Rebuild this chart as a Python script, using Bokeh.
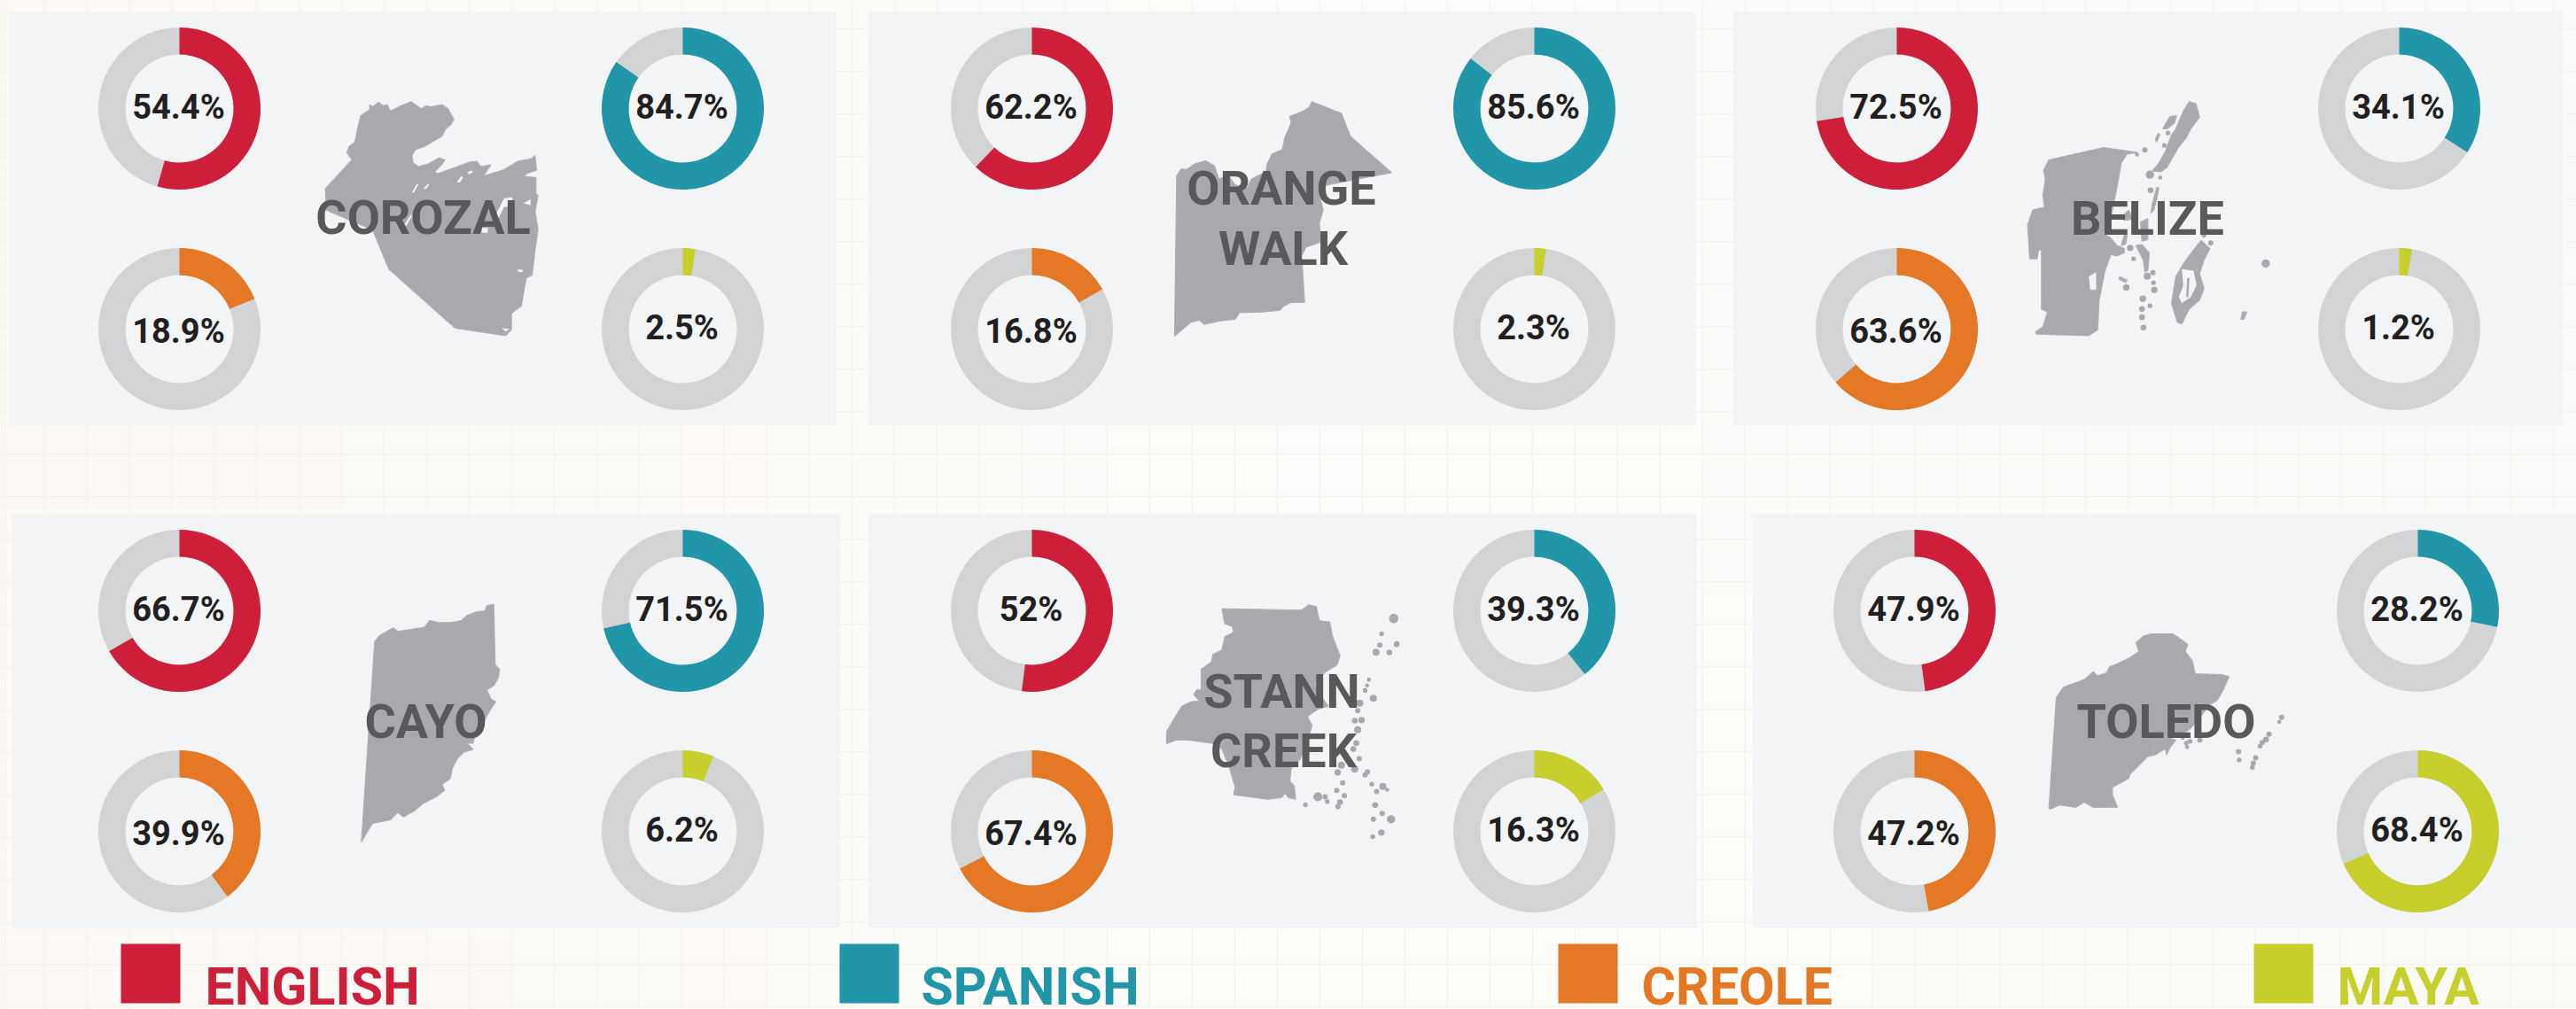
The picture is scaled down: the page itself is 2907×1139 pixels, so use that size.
from math import pi
from bokeh.plotting import figure
from bokeh.models import Range1d
from bokeh.core.properties import value
from bokeh.embed import file_html
from bokeh.resources import INLINE

# ---------- chart values ----------
districts = ["COROZAL", "ORANGE WALK", "BELIZE", "CAYO", "STANN CREEK", "TOLEDO"]
english = [54.4, 62.2, 72.5, 66.7, 52, 47.9]
spanish = [84.7, 85.6, 34.1, 71.5, 39.3, 28.2]
creole = [18.9, 16.8, 63.6, 39.9, 67.4, 47.2]
maya = [2.5, 2.3, 1.2, 6.2, 16.3, 68.4]
# the reference draws Belize's 1.2% Maya arc as wide as about 2.5%
maya_arc = [2.5, 2.3, 2.5, 6.2, 16.3, 68.4]
languages = ["ENGLISH", "SPANISH", "CREOLE", "MAYA"]
lang_colors = ["#ce1f3a", "#2196a8", "#e57825", "#c6cf2b"]

corozal_outline = [(185,38),(195,45),(215,30),(232,42),(245,38),(255,60),(290,42),(325,28),(345,42),(360,52),(375,42),(392,45),(430,38),(450,52),(470,88),(460,105),(442,120),(430,145),(395,165),(370,180),(340,190),(328,210),(332,235),(350,248),(385,238),(420,218),(440,225),(430,240),(405,265),(415,272),(470,252),(525,232),(548,230),(560,248),(595,242),(570,280),(640,258),(690,228),(730,222),(745,210),(750,260),(720,270),(705,280),(748,285),(748,340),(755,345),(745,400),(755,460),(745,530),(735,615),(715,625),(698,720),(665,745),(665,800),(645,820),(475,795),(250,595),(195,462),(38,395),(35,322),(125,225),(108,200),(115,180),(135,165),(145,115),(155,75),(185,55)]
corozal_holes = [[(480,300),(495,280),(502,285),(490,302)],[(515,268),(530,260),(535,268),(522,274)],[(328,335),(345,305),(350,310),(335,335)],[(368,322),(383,305),(386,310),(375,325)],[(300,447),(325,410),(328,415),(310,447)],[(563,455),(585,455),(585,472),(565,472)],[(600,430),(625,385),(640,355),(668,352),(668,382),(640,385),(620,425)],[(705,372),(730,358),(730,378)],[(686,595),(705,598),(700,606),(688,604)],[(632,795),(660,797),(645,806)]]
orange_outline = [(510,28),(610,68),(640,145),(780,268),(560,310),(535,340),(548,395),(535,440),(540,490),(535,505),(490,520),(475,550),(480,620),(485,708),(440,708),(415,720),(400,735),(340,740),(265,742),(250,765),(200,770),(145,782),(130,768),(100,775),(70,800),(45,822),(52,280),(68,255),(85,258),(115,238),(150,228),(180,245),(195,290),(225,275),(250,310),(290,320),(305,290),(355,265),(358,240),(375,205),(410,190),(418,150),(440,100),(435,78),(475,62),(500,48)]
belize_outline = [(80,225),(265,183),(380,200),(345,205),(325,235),(310,320),(290,420),(265,475),(290,490),(310,515),(335,525),(335,540),(310,550),(290,545),(270,600),(250,700),(245,800),(215,820),(38,815),(35,808),(60,790),(75,740),(55,730),(55,530),(45,530),(40,560),(15,560),(8,445),(25,395),(65,385),(60,345),(68,290),(62,260)]
belize_islands = [[(555,28),(578,35),(590,80),(560,120),(545,150),(520,180),(480,250),(460,265),(430,262),(450,240),(475,195),(495,140),(510,120),(535,60)],[(490,78),(512,75),(505,100),(480,120),(465,120)],[(450,135),(455,140),(445,165),(440,155)],[(445,318),(452,320),(445,360),(435,395),(425,405),(430,375),(438,345)],[(350,395),(365,425),(335,430),(330,415)],[(390,435),(415,425),(415,495),(395,500)],[(335,480),(345,480),(340,510),(325,515)],[(375,515),(395,512),(420,540),(415,600),(405,605),(400,565)],[(320,620),(345,632),(340,640),(318,630)],[(595,498),(625,525),(605,565),(590,610),(605,660),(590,700),(555,730),(530,780),(515,775),(495,710),(510,620),(540,570),(570,530)],[(735,740),(750,740),(740,765),(730,765)]]
belize_holes = [[(215,620),(240,605),(240,665),(220,665)],[(530,595),(570,600),(580,650),(560,690),(530,710),(520,690),(535,650)]]
belize_inner = [[(548,625),(556,625),(552,690),(545,690)]]
belize_dots = [(483,134,8),(471,176,8),(405,191,9),(378,207,7),(457,285,7),(367,560,8),(422,719,8),(434,641,8),(814,576,14),(422,275,14),(424,328,10),(355,523,11),(413,619,12),(432,607,9),(437,665,11),(342,657,11),(398,695,11),(395,730,10),(395,758,10),(400,793,10),(605,480,8),(628,506,9)]
cayo_outline = [(635,20),(640,225),(655,240),(650,270),(635,295),(612,310),(625,340),(642,350),(625,375),(610,400),(595,440),(570,470),(565,490),(545,490),(565,512),(535,520),(510,545),(495,575),(488,610),(460,630),(468,650),(440,672),(395,695),(365,720),(330,740),(310,725),(285,750),(225,762),(210,785),(187,825),(232,145),(250,125),(295,100),(310,112),(400,98),(418,75),(450,82),(490,82),(525,75),(545,58),(578,45),(605,42),(612,25)]
stann_outline = [(205,35),(475,40),(500,22),(525,28),(535,75),(570,80),(580,130),(605,195),(595,225),(555,250),(520,285),(540,330),(565,365),(530,375),(495,400),(510,430),(500,470),(470,545),(440,575),(435,620),(450,635),(455,680),(430,675),(420,660),(405,675),(360,680),(245,665),(250,640),(230,570),(205,510),(170,490),(90,480),(50,480),(18,492),(18,450),(45,405),(70,365),(100,350),(130,348),(110,325),(120,310),(135,310),(135,240),(170,215),(175,190),(205,175),(215,130),(245,115),(240,95),(215,85)]
stann_dots = [(787,68,16),(746,120,8),(740,158,9),(797,155,10),(772,183,10),(727,182,12),(690,312,8),(718,338,12),(672,355,12),(665,380,9),(655,414,10),(678,412,11),(665,445,12),(660,490,10),(650,510,10),(670,542,9),(610,565,12),(655,578,12),(597,589,11),(690,598,9),(698,587,9),(614,625,9),(594,650,9),(713,629,8),(750,637,12),(729,654,9),(765,648,7),(620,668,9),(605,690,10),(598,705,9),(530,672,15),(555,672,9),(562,688,8),(488,699,8),(724,700,10),(748,728,9),(718,748,9),(778,748,14),(745,793,11),(716,807,8),(703,275,7),(697,295,7)]
toledo_outline = [(45,335),(70,300),(140,275),(170,248),(185,262),(215,252),(225,232),(250,222),(295,200),(325,180),(315,150),(340,128),(365,120),(440,120),(490,155),(482,180),(505,210),(515,255),(605,258),(630,265),(610,310),(590,345),(565,360),(500,440),(455,470),(410,470),(420,500),(380,530),(355,535),(320,570),(295,595),(290,610),(235,640),(235,665),(252,707),(170,708),(140,690),(110,708),(75,702),(55,700),(30,712),(20,712)]
toledo_islands = [[(375,480),(420,470),(450,480),(430,505),(418,530),(415,510),(395,520),(375,530)]]
toledo_dots = [(485,490,8),(488,503,7),(498,484,8),(531,480,9),(473,472,7),(808,403,9),(800,418,7),(765,460,9),(755,478,10),(742,488,9),(735,500,8),(662,519,9),(664,547,8),(720,540,9),(712,558,9),(709,572,8)]

# ---------- layout ----------
W, H = 2907, 1139
PANEL = "#f2f4f6"; RING = "#d1d3d4"; MAP = "#a7a9ac"; MAPLINE = "#aeb0b3"
PCT = "#231f20"; NAME = "#58595b"; GRID = "#f6f3ef"; FONT = "Roboto"
R_OUT, R_IN = 91.5, 61
BASE_SHIFT = 0.33   # renderer puts the alphabetic baseline this many em too low
PCT_SIZE, NAME_SIZE, LEG_SIZE = 38, 54, 59

panels = [(9, 13, 943, 480), (979, 13, 1913, 480), (1956, 13, 2891, 480),
          (13, 580, 947, 1047), (980, 580, 1914, 1047), (1977, 580, 2911, 1047)]
col_x = [(202, 770), (1164, 1731), (2140, 2707), (202, 770), (1164, 1731), (2160, 2728)]
row_y = [(122, 371), (122, 371), (122, 371), (689, 938), (689, 938), (689, 938)]
map_origin = [(355, 105), (1310, 105), (2285, 105), (345, 675), (1310, 675), (2305, 675)]
name_lines = [[("COROZAL", 477, 263)], [("ORANGE", 1445.5, 230), ("WALK", 1447.5, 298)],
              [("BELIZE", 2423, 264)], [("CAYO", 480, 832)],
              [("STANN", 1446, 798), ("CREEK", 1448, 865)], [("TOLEDO", 2444, 832)]]
legend_sq = [136, 947, 1758, 2543]
legend_tx = [231, 1039, 1852, 2637]

p = figure(width=W, height=H, output_backend="svg", toolbar_location=None,
           x_range=Range1d(0, W), y_range=Range1d(H, 0), min_border=0,
           outline_line_color=None)
p.axis.visible = False
p.grid.visible = False
p.background_fill_color = "#fefdfb"
p.border_fill_color = None

# background wash and ruled grid
def lerp(a, b, t):
    return [a[i] + (b[i] - a[i]) * t for i in range(3)]
TL, TM, TR = (253, 250, 246), (254, 253, 251), (249, 251, 252)
BL, BM, BR = (253, 249, 244), (254, 253, 250), (251, 252, 247)
xl, xr, yt, yb, cc = [], [], [], [], []
STEP = 96
for x in range(0, W, STEP):
    for y in range(0, H, STEP):
        tx = (x + STEP / 2) / W
        top = lerp(TL, TM, tx * 2) if tx < .5 else lerp(TM, TR, tx * 2 - 1)
        bot = lerp(BL, BM, tx * 2) if tx < .5 else lerp(BM, BR, tx * 2 - 1)
        c = lerp(top, bot, (y + STEP / 2) / H)
        xl.append(x); xr.append(x + STEP); yt.append(y); yb.append(y + STEP)
        cc.append("#%02x%02x%02x" % tuple(int(round(v)) for v in c))
p.quad(left=xl, right=xr, top=yt, bottom=yb, fill_color=cc, line_color=None)
vx = list(range(1, W, 48))
hy = list(range(32, H, 48))
p.segment(x0=vx, x1=vx, y0=[0] * len(vx), y1=[H] * len(vx), line_color=GRID, line_width=1.5)
p.segment(x0=[0] * len(hy), x1=[W] * len(hy), y0=hy, y1=hy, line_color=GRID, line_width=1.5)

# panels
p.quad(left=[a[0] for a in panels], right=[a[2] for a in panels], top=[a[1] for a in panels],
       bottom=[a[3] for a in panels], fill_color=PANEL, line_color=None)

# maps
def poly(rings, origin, fill, line=None):
    ox, oy = origin
    p.patches([[ox + q[0] / 3 for q in r] for r in rings],
              [[oy + q[1] / 3 for q in r] for r in rings],
              fill_color=fill, line_color=line, line_width=1.2)
def dots(items, origin):
    ox, oy = origin
    p.circle(x=[ox + d[0] / 3 for d in items], y=[oy + d[1] / 3 for d in items],
             radius=[d[2] / 3 for d in items], fill_color=MAP, line_color=None)

poly([corozal_outline], map_origin[0], MAP, MAPLINE)
poly(corozal_holes, map_origin[0], PANEL)
poly([orange_outline], map_origin[1], MAP, MAPLINE)
poly([belize_outline] + belize_islands, map_origin[2], MAP, MAPLINE)
poly(belize_holes, map_origin[2], PANEL)
poly(belize_inner, map_origin[2], MAP)
dots(belize_dots, map_origin[2])
poly([cayo_outline], map_origin[3], MAP, MAPLINE)
poly([stann_outline], map_origin[4], MAP, MAPLINE)
dots(stann_dots, map_origin[4])
poly([toledo_outline] + toledo_islands, map_origin[5], MAP, MAPLINE)
dots(toledo_dots, map_origin[5])

# donuts
series = [english, spanish, creole, maya]
arcs = [english, spanish, creole, maya_arc]
for i in range(6):
    (x0, x1), (y0, y1) = col_x[i], row_y[i]
    centers = [(x0, y0), (x1, y0), (x0, y1), (x1, y1)]
    for k, (cx, cy) in enumerate(centers):
        v = series[k][i]
        p.annulus(x=[cx], y=[cy], inner_radius=R_IN, outer_radius=R_OUT,
                  fill_color=RING, line_color=None)
        p.annular_wedge(x=[cx], y=[cy], inner_radius=R_IN, outer_radius=R_OUT,
                        start_angle=pi / 2, end_angle=pi / 2 - 2 * pi * arcs[k][i] / 100,
                        direction="clock", fill_color=lang_colors[k], line_color=None)
        dy = 15 if k == 2 else 11.5
        p.text(x=[cx - 1], y=[cy + dy - BASE_SHIFT * PCT_SIZE], text=[f"{v:g}%"], text_font=value(FONT),
               text_font_style="bold", text_font_size=f"{PCT_SIZE}px", text_color=PCT,
               text_align="center", text_baseline="alphabetic")

# district names
for lines in name_lines:
    for s, x, y in lines:
        p.text(x=[x], y=[y - BASE_SHIFT * NAME_SIZE], text=[s], text_font=value(FONT), text_font_style="bold",
               text_font_size=f"{NAME_SIZE}px", text_color=NAME, text_align="center",
               text_baseline="alphabetic")

# legend
for k, lang in enumerate(languages):
    p.quad(left=[legend_sq[k]], right=[legend_sq[k] + 67], top=[1065], bottom=[1132],
           fill_color=lang_colors[k], line_color=None)
    p.text(x=[legend_tx[k]], y=[1132 - BASE_SHIFT * LEG_SIZE], text=[lang], text_font=value(FONT), text_font_style="bold",
           text_font_size=f"{LEG_SIZE}px", text_color=lang_colors[k], text_align="left",
           text_baseline="alphabetic")

open("out.html", "w").write(file_html(p, INLINE))
